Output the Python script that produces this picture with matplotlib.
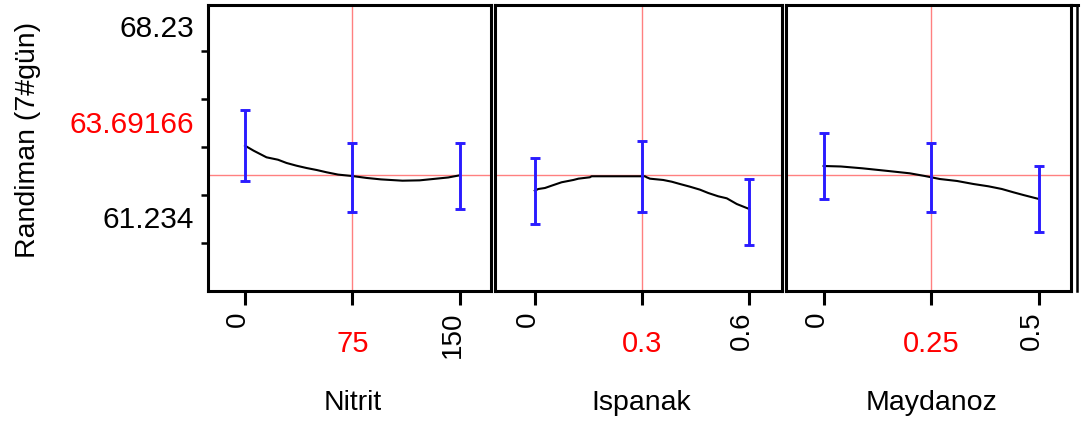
import matplotlib.pyplot as plt
from matplotlib.lines import Line2D
import numpy as np

plt.rcParams['font.family'] = ['Liberation Sans', 'DejaVu Sans']
plt.rcParams['font.size'] = 20

# predicted response at current settings
pred = 63.69166
y_lim = (61.285, 67.244)
y_minor = [66.275, 65.275, 64.275, 63.275, 62.275]
y_label_pos = [66.821, 64.823, 62.844]
y_label_txt = ['68.23', '63.69166', '61.234']
y_label_col = ['black', 'red', 'black']

# Nitrit profile
nitrit_x = [0, 6, 15, 23, 29, 36, 43, 50, 57, 65, 75, 85, 95, 110, 122, 132, 142, 150]
nitrit_y = [64.302, 64.198, 64.060, 64.010, 63.942, 63.885, 63.837, 63.796, 63.748,
            63.700, 63.670, 63.630, 63.600, 63.573, 63.580, 63.610, 63.640, 63.685]
nitrit_bar_x = [0, 75, 150]
nitrit_lo = [63.560, 62.927, 62.983]
nitrit_hi = [65.046, 64.358, 64.358]

# Ispanak profile
ispanak_x = [0, 0.010, 0.0285, 0.047, 0.075, 0.108, 0.122, 0.154, 0.159, 0.308, 0.313,
             0.322, 0.359, 0.383, 0.406, 0.434, 0.462, 0.485, 0.513, 0.537, 0.565, 0.6]
ispanak_y = [63.365, 63.400, 63.421, 63.469, 63.540, 63.588, 63.615, 63.644, 63.665, 63.665,
             63.644, 63.615, 63.588, 63.552, 63.504, 63.448, 63.386, 63.317, 63.248, 63.206,
             63.087, 62.983]
ispanak_bar_x = [0, 0.3, 0.6]
ispanak_lo = [62.665, 62.927, 62.233]
ispanak_hi = [64.040, 64.406, 63.608]

# Maydanoz profile
maydanoz_x = [0, 0.04, 0.09, 0.15, 0.2, 0.235, 0.27, 0.31, 0.348, 0.383, 0.414, 0.441, 0.464, 0.5]
maydanoz_y = [63.879, 63.869, 63.831, 63.775, 63.727, 63.671, 63.608, 63.567, 63.504,
              63.456, 63.400, 63.331, 63.275, 63.192]
maydanoz_bar_x = [0, 0.25, 0.5]
maydanoz_lo = [63.190, 62.927, 62.498]
maydanoz_hi = [64.560, 64.352, 63.873]

panels = [
    ('Nitrit', nitrit_x, nitrit_y, nitrit_bar_x, nitrit_lo, nitrit_hi,
     ['0', '150'], '75', (-25.9, 171.9), (208, 491)),
    ('Ispanak', ispanak_x, ispanak_y, ispanak_bar_x, ispanak_lo, ispanak_hi,
     ['0', '0.6'], '0.3', (-0.1113, 0.6915), (495, 782)),
    ('Maydanoz', maydanoz_x, maydanoz_y, maydanoz_bar_x, maydanoz_lo, maydanoz_hi,
     ['0', '0.5'], '0.25', (-0.0874, 0.5748), (786, 1071)),
]

W, H = 1081, 431
fig = plt.figure(figsize=(W / 100, H / 100), dpi=100)
top_px, bot_px = 5.5, 291.5

red = '#ff8080'
blue = '#2a1cff'

for i, (name, xs, ys, bx, lo, hi, end_lbl, cur_lbl, xlim, (l, r)) in enumerate(panels):
    ax = fig.add_axes([l / W, 1 - bot_px / H, (r - l) / W, (bot_px - top_px) / H])
    ax.plot(xs, ys, color='black', lw=1.5, zorder=3)
    lo = np.array(lo)
    hi = np.array(hi)
    mid = (lo + hi) / 2
    ax.errorbar(bx, mid, yerr=[mid - lo, hi - mid], fmt='none', ecolor=blue,
                elinewidth=2.1, capsize=3.4, capthick=2.1, zorder=4)
    ax.axhline(pred, color=red, lw=1.0, zorder=2)
    ax.axvline(bx[1], color=red, lw=1.0, zorder=2)
    ax.set_xlim(xlim)
    ax.set_ylim(y_lim)

    for s in ax.spines.values():
        s.set_linewidth(2.2)

    # end ticks rotated, current value in red below
    ax.set_xticks([bx[0], bx[2]])
    ax.set_xticklabels(end_lbl)
    ax.set_xticks([bx[1]], minor=True)
    ax.set_xticklabels([cur_lbl], minor=True)
    ax.tick_params(axis='x', which='both', length=10, width=2.2, direction='out')
    ax.tick_params(axis='x', which='major', pad=4.5, labelsize=20)
    ax.tick_params(axis='x', which='minor', pad=18, labelsize=21, labelcolor='red')
    for t in ax.get_xticklabels():
        t.set_rotation(90)
        t.set_rotation_mode('anchor')
        t.set_ha('right')
        t.set_va('baseline')

    ax.set_xlabel(name, fontsize=20.5)
    ax.xaxis.set_label_coords(0.51, -0.345)

    if i == 0:
        ax.set_yticks(y_label_pos)
        ax.set_yticklabels(y_label_txt)
        for t, c in zip(ax.get_yticklabels(), y_label_col):
            t.set_color(c)
        ax.set_yticks(y_minor, minor=True)
        ax.tick_params(axis='y', which='major', length=0, pad=10, labelsize=21.5)
        ax.tick_params(axis='y', which='minor', length=5, width=1.8, direction='out')
    else:
        ax.set_yticks([])
        ax.set_yticks([], minor=True)

# outer frame line on the right
fig.add_artist(Line2D([1077 / W, 1077 / W], [1 - top_px / H, 1 - bot_px / H],
                      color='black', lw=1.8, transform=fig.transFigure))
fig.add_artist(Line2D([1071 / W, 1077.8 / W], [1 - top_px / H, 1 - top_px / H],
                      color='black', lw=2.2, transform=fig.transFigure))

fig.text(28 / W, 1 - 140 / H, 'Randiman (7#gün)', rotation=90, ha='center',
         va='center', fontsize=20.5)

fig.savefig('out.png', dpi=100)
